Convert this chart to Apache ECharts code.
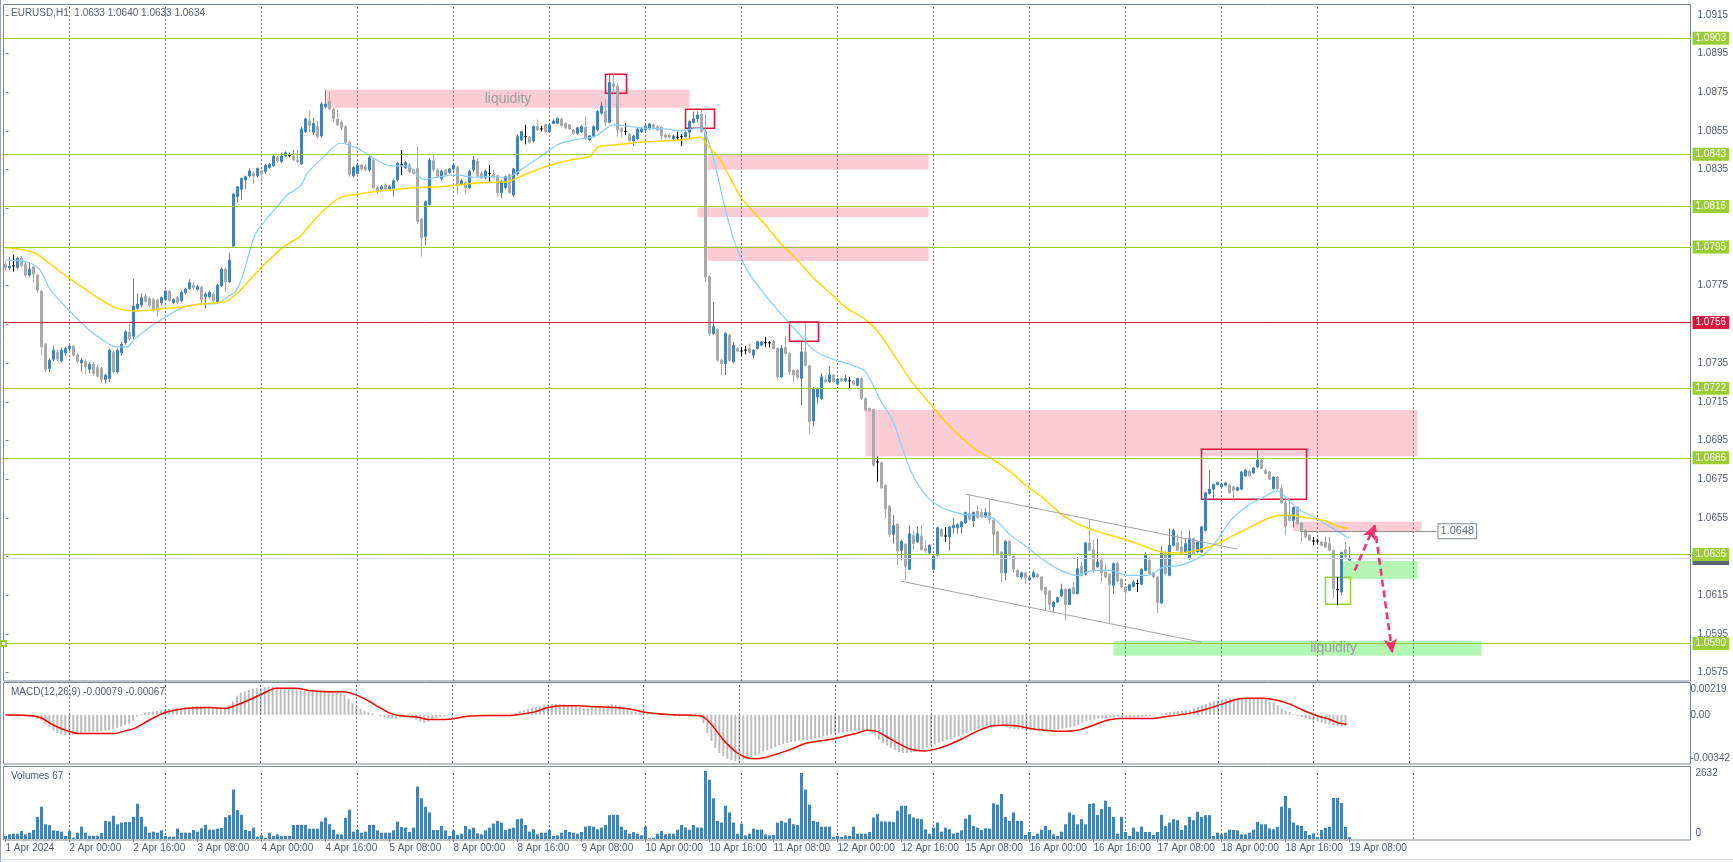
<!DOCTYPE html>
<html><head><meta charset="utf-8">
<style>html,body{margin:0;padding:0;background:#fff}#c{width:1733px;height:862px}</style>
<script src="https://cdn.jsdelivr.net/npm/echarts@6/dist/echarts.min.js"></script>
</head><body><div id="c"></div>
<script>
// ---------------- DATA ----------------
const symbolName = 'EURUSD,H1';
const tickLabels = ['1 Apr 2024','2 Apr 00:00','2 Apr 16:00','3 Apr 08:00','4 Apr 00:00','4 Apr 16:00','5 Apr 08:00','8 Apr 00:00','8 Apr 16:00','9 Apr 08:00','10 Apr 00:00','10 Apr 16:00','11 Apr 08:00','12 Apr 00:00','12 Apr 16:00','15 Apr 08:00','16 Apr 00:00','16 Apr 16:00','17 Apr 08:00','18 Apr 00:00','18 Apr 16:00','19 Apr 08:00'];
const barsPerLabel = 16;
const dayStarts = [16,40,64,88,112,136,160,184,208,232,256,280,304,328,352];
const slotCount = 422; // bars + empty future space on the time axis

// hourly candles, price x 10000 : [open, high, low, close]
const ohlc = [
[10786.2,10787.5,10783,10784.5],[10784.2,10790,10783.1,10785.2],[10785.3,10791.2,10782.3,10785.3],[10784.5,10790,10783.5,10789.1],[10789.1,10790.5,10784.5,10785.3],
[10786,10787,10779.3,10780.5],[10780.5,10787,10779.3,10783.6],[10784.8,10785.5,10776.6,10781],[10780.5,10781,10771.4,10772.8],[10772.2,10773,10739.1,10743.4],
[10744.8,10745.5,10730.5,10731.7],[10732.2,10737.5,10730.5,10736.5],[10737,10743.8,10736,10741.7],[10740.5,10742,10736,10737],[10736.2,10743,10735.5,10741.7],
[10740.3,10743.5,10739,10742.6],[10742.5,10745,10741,10743.8],[10743.8,10744.5,10738.5,10739.1],[10739.1,10740,10735,10736],[10735.1,10737.5,10730.5,10736.5],
[10735.8,10737,10729.6,10733.1],[10731.8,10735.5,10729.6,10734.4],[10734.4,10735.5,10728.5,10729.6],[10732.7,10734,10727.5,10728.2],[10732.2,10733,10725.3,10726.5],
[10726.5,10729.5,10724.4,10728.7],[10727,10742.5,10725.3,10741.7],[10740.5,10741.5,10729.5,10730.5],[10730.5,10742.5,10729.5,10741.7],[10740.3,10746,10739,10744.8],
[10745.5,10752,10744.5,10751.2],[10750.9,10755.5,10746.5,10747.7],[10748.9,10778.4,10747.2,10764.5],[10763.4,10771,10762.5,10765.5],[10765,10771,10764,10768.8],
[10769.6,10771,10766,10766.9],[10768.4,10769.5,10764,10765],[10767.9,10769,10761.5,10762.4],[10767.6,10768.5,10759,10762.4],[10766.2,10769.5,10765,10768.8],
[10767.9,10773,10767,10772.2],[10772.2,10773,10766.5,10767.2],[10766.4,10768.5,10765.5,10767.9],[10768.9,10769.5,10765.5,10766.4],[10767.2,10772.5,10766.5,10771.5],
[10771.5,10774,10770.5,10773.3],[10773.6,10778.3,10773,10776.6],[10775.3,10777,10773,10774],[10773.1,10775.5,10772.5,10774.5],[10774.1,10775,10765.8,10767.9],
[10769.3,10771.5,10763.3,10770.7],[10769.3,10772.5,10768.5,10771.5],[10770.7,10771.5,10766.5,10767.2],[10766.4,10776,10765.5,10775.3],[10775,10784.5,10774.5,10783.6],
[10783.6,10784.5,10771.9,10777.1],[10777.1,10792.2,10776.5,10788.3],[10795.5,10823,10795,10822.4],[10821.1,10826.5,10818,10826.2],[10824.9,10831,10819.3,10830.5],
[10829.7,10832,10824.9,10831.4],[10831.8,10835.7,10831,10834.3],[10833.1,10834,10827.6,10831.8],[10831.9,10836.2,10831,10835.6],[10834.3,10835,10828.6,10832.8],
[10834,10838,10833,10837.3],[10836.1,10838.5,10835.5,10837.6],[10837,10842.5,10836.5,10841.8],[10841.2,10842,10838.5,10839.5],[10839.2,10843.8,10838.5,10842.1],
[10842.1,10844.5,10841.5,10843.8],[10842.4,10843.8,10841.4,10842.4],[10842,10845.2,10839.5,10840.2],[10840,10845.2,10838.5,10839.2],[10838,10857,10837.5,10856.1],
[10854.7,10862,10854,10861.3],[10860.2,10865.4,10854.4,10857.8],[10854.4,10861.6,10853,10859],[10857.3,10860.2,10851,10852.1],[10852.5,10870,10851.5,10869],
[10867.5,10876.3,10867,10869],[10870.2,10875.4,10865.9,10866.4],[10866.3,10867,10859.5,10861.3],[10861.1,10865.9,10857.5,10858.2],[10859.5,10860.5,10855.5,10856.9],
[10857.3,10858,10848.5,10849.2],[10849.2,10850,10831.4,10832.6],[10831.9,10837,10831,10836.2],[10833.1,10838.5,10832.5,10837.5],[10837.5,10838,10834.5,10835.4],
[10836.6,10837.5,10834,10834.9],[10834.9,10843,10834,10841.2],[10840,10841,10824.9,10825.7],[10825.7,10826.5,10822.3,10824],[10825,10827,10824,10826.2],
[10827.1,10828,10824,10825],[10825,10827,10824.5,10826.2],[10825.4,10830,10821.1,10829.3],[10829.7,10839,10829,10838.3],[10837.5,10845.2,10832.3,10837.5],
[10836.1,10839.5,10835.5,10838.7],[10837.5,10838.5,10833,10834],[10834.9,10835.5,10832.5,10833.1],[10835.7,10847.3,10807,10808.1],[10809.5,10810,10790,10799.8],
[10800.4,10819,10796,10818.5],[10817.1,10841,10816.5,10840],[10839.7,10842.6,10834,10834.9],[10834.9,10835.5,10831,10831.8],[10830.5,10835,10829.5,10834.3],
[10834.9,10835.5,10831.5,10832.3],[10833.7,10836,10833,10835.4],[10835.4,10838,10834.5,10837.5],[10836.2,10837,10822.8,10827.1],[10827.6,10830,10827,10829.3],
[10828.3,10829,10822.8,10825.7],[10825.7,10835,10825,10834.3],[10834.9,10842.1,10834,10840],[10839.5,10841.2,10831,10831.8],[10833.1,10834,10830,10830.5],
[10830.9,10835,10830,10834.3],[10833.1,10837.5,10828.8,10833.1],[10832.6,10834.9,10830.5,10831.1],[10831.9,10832.5,10821.1,10823.1],[10823.1,10829.5,10820.2,10828.8],
[10825.7,10832,10825,10831.4],[10832.3,10833,10822.8,10823.1],[10821.9,10836,10821,10835.4],[10832.8,10853,10832,10852.1],[10850.4,10855,10850,10854.7],
[10852.1,10858.2,10848.1,10852.1],[10851.6,10852.5,10848.5,10849.2],[10849.9,10858,10849,10857.3],[10857.3,10861.1,10855,10855.6],[10856.1,10857.8,10854.7,10856.1],
[10858.2,10859,10854,10854.7],[10854.7,10859,10854,10858.2],[10859,10861,10858.5,10860.2],[10859,10862,10858.5,10861.6],[10861.1,10862,10857,10857.8],
[10859,10859.5,10856,10856.7],[10858.2,10858.7,10855.5,10856.1],[10855.6,10856,10853,10853.8],[10853.8,10857.2,10853,10856.7],[10854.7,10858,10854,10857.3],
[10856.9,10862.5,10850.5,10851.3],[10850.4,10853,10850,10852.5],[10852.5,10858,10851.8,10857.3],[10855.6,10865.9,10855,10865.1],[10864.2,10870.2,10863.5,10868],
[10865.1,10871.4,10857.8,10859.5],[10859.5,10884,10859,10880.1],[10879.4,10884.5,10874.5,10878],[10878.3,10879.5,10852.1,10855.6],[10856.4,10857,10852.1,10854.7],
[10854.7,10859,10853,10854.7],[10853.5,10854,10849.5,10849.9],[10849.9,10853,10847.3,10852.5],[10850.9,10856.5,10850.5,10856.1],[10854.7,10856.8,10854,10856.1],
[10855.6,10858.2,10855,10857.6],[10856.1,10859.2,10855.5,10858.7],[10858.2,10858.8,10856.3,10856.8],[10857.3,10858,10855,10855.6],[10856.9,10857.5,10850.4,10852.6],
[10853,10853.6,10851.2,10851.8],[10853,10853.6,10851.2,10851.8],[10850.9,10853.2,10850.3,10852.5],[10851.8,10854.7,10850.4,10851.8],[10852.1,10853.5,10847.3,10852.1],
[10852.1,10854.8,10851.5,10854.2],[10854.4,10860.5,10850.4,10859.9],[10859.5,10865.1,10859,10861.3],[10861.3,10865.1,10859.4,10863.3],[10863.7,10865.9,10854,10854.7],
[10854.7,10864,10777.1,10779.7],[10779.7,10780.5,10748.9,10750.3],[10750.3,10766.7,10749.5,10753.8],[10752.5,10753,10735.8,10736.5],[10736.5,10737.2,10728.8,10734.8],
[10734.8,10751,10728.8,10750.3],[10749.5,10750.2,10735.7,10736.5],[10735.7,10746,10735,10744.3],[10742.6,10743.3,10740.5,10741.2],[10741.2,10743.4,10738.8,10741.2],
[10741.7,10743.9,10739.5,10741.7],[10742.6,10745.1,10740,10740.5],[10739.1,10742.3,10737.4,10741.7],[10742.6,10746.6,10742,10746],[10744.3,10746.5,10743.8,10746],
[10745.5,10748.6,10743.4,10745.5],[10745.5,10746.5,10743.1,10745.5],[10746.4,10747,10742,10742.6],[10742.6,10743.2,10726.5,10727.9],[10727.9,10744.3,10727.3,10742.6],
[10743.1,10749.1,10739.5,10740],[10740,10740.5,10728.8,10730.5],[10731.3,10731.8,10725.3,10728.8],[10731.3,10731.8,10727,10727.6],[10727,10746,10713.2,10740.8],
[10740.8,10756.4,10733.3,10733.9],[10733.6,10734.2,10698.6,10704.6],[10705.1,10722.5,10702,10721.9],[10717.5,10722.5,10714.1,10721.9],[10716.7,10729.9,10716,10727.9],
[10726.5,10728.8,10724.8,10725.3],[10725.3,10733.4,10724.8,10728.8],[10728.8,10729.3,10724.8,10725.3],[10724.1,10727.3,10723.5,10726.7],[10727,10727.6,10725.1,10725.7],
[10725.8,10728.8,10725.2,10727],[10725.8,10727.9,10721.9,10725.8],[10725.8,10726.3,10723.5,10724.1],[10723.6,10727.5,10723,10727],[10727,10727.6,10716,10716.7],
[10716.7,10717.2,10710,10710.6],[10711.5,10712,10709.8,10710.3],[10711,10711.5,10681.5,10682.2],[10683.9,10686.8,10673.6,10683.9],[10683.6,10684,10670,10670.5],
[10671.8,10672.3,10654.6,10659.8],[10661,10661.5,10645.1,10646.5],[10646.5,10656.3,10641.6,10651.1],[10651.6,10652.2,10630.4,10637.8],[10638.2,10643.4,10633,10642.9],
[10641.3,10641.8,10622.7,10629.9],[10628.4,10651.1,10628,10646.8],[10645.9,10648.5,10638.2,10641.6],[10642.5,10650.3,10642,10646.8],[10645.6,10651.1,10638,10638.5],
[10639,10643.4,10636.8,10637.8],[10636.8,10641.3,10636.3,10640.8],[10628.4,10635.6,10627.8,10635.1],[10635.6,10650.4,10635,10649.9],[10649.1,10649.6,10645,10645.6],
[10645.6,10650.3,10642.5,10645.6],[10645.1,10650.8,10638.2,10650.3],[10649.8,10654.6,10646.8,10651.1],[10649.8,10652,10646.8,10651.5],[10650.3,10653.4,10646.8,10652.9],
[10652.3,10658.2,10651.8,10657.7],[10657.2,10667,10653.7,10654.2],[10653.4,10658.2,10650.3,10657.7],[10658.5,10661.5,10654.6,10655.1],[10657.7,10659.8,10654.9,10655.4],
[10655.4,10659.8,10654.9,10657.7],[10657.7,10664.9,10652,10654.2],[10653.7,10654.2,10635.1,10646.5],[10647.7,10648.2,10636,10636.5],[10637.3,10637.8,10621.8,10626.5],
[10626.5,10643.4,10622.7,10642.9],[10642.9,10643.4,10635,10635.6],[10635.1,10635.6,10626.5,10628.4],[10627.8,10628.3,10623.9,10624.4],[10624.4,10627.1,10623.5,10626.6],
[10626.5,10627,10620.9,10624],[10623,10624.5,10622.5,10624],[10624.4,10627.8,10624,10626.6],[10625.8,10626.3,10623.9,10624.4],[10624.4,10624.9,10617.3,10617.8],
[10618.9,10619.4,10607.1,10615.2],[10617.1,10617.6,10607.1,10610.2],[10608.9,10611.9,10606.3,10611.4],[10611.4,10614.2,10610.9,10613.7],[10614.5,10620.9,10614,10618],
[10618,10618.5,10602,10610.2],[10610.2,10618.5,10609.7,10618],[10618.9,10621.8,10615.3,10615.8],[10615.8,10634.7,10615.3,10628.7],[10629.9,10632.2,10624.7,10625.2],
[10625.8,10642.5,10625.3,10642],[10642,10654.1,10637.7,10638.2],[10638.5,10643.7,10626.5,10627.5],[10629.6,10644.2,10629.1,10632.2],[10633,10633.5,10621.8,10626.5],
[10627,10631.3,10623.9,10624.4],[10625.8,10626.3,10600.6,10620.6],[10620.1,10631.8,10615.8,10631.3],[10631.6,10632.1,10621.8,10622.3],[10623.2,10623.7,10618.7,10619.2],
[10619.2,10619.7,10612.3,10616.6],[10617.5,10620.9,10617,10620.4],[10619.5,10622.7,10619,10621.8],[10621,10623,10616.6,10621],[10620.6,10628.9,10620.1,10628.4],
[10627.8,10637.3,10627.3,10635.6],[10633,10635,10625.6,10626.1],[10626.5,10627,10623.9,10624.4],[10624.4,10624.9,10605.7,10610.9],[10610.9,10640.4,10610.4,10637.3],
[10637.3,10638,10625.5,10626.1],[10625.2,10649.4,10624.7,10640.8],[10640.8,10649.4,10640.3,10648.5],[10642,10646.3,10637.7,10638.2],[10639.9,10648.5,10636,10636.5],
[10637.3,10644.2,10636.8,10641.6],[10633.9,10648.5,10633.4,10644.2],[10644.2,10644.7,10636,10636.5],[10637.3,10643,10636.8,10642.5],[10637.3,10650.8,10636.8,10650.3],
[10648.5,10668.4,10648,10667.9],[10667.5,10679.6,10667,10669.8],[10669.8,10672.7,10664.1,10672.2],[10672.2,10673.7,10671.7,10673.2],[10671,10672.7,10670.5,10672.2],
[10671.8,10673.5,10671.3,10673],[10671.8,10672.3,10667.5,10668],[10671,10671.5,10664.1,10669.2],[10669.2,10671.1,10668.7,10670.6],[10669.8,10679.2,10669.3,10678.7],
[10676.7,10680.1,10676.2,10679.6],[10679.1,10679.6,10676.2,10676.7],[10678.2,10681.3,10677.7,10680.8],[10681.3,10689.9,10680.8,10684.8],[10684.8,10685.3,10680,10680.5],
[10679.6,10680.1,10677.4,10677.9],[10678.7,10679.2,10674.4,10674.9],[10670.1,10676.6,10669.6,10676.1],[10676.1,10676.6,10669.6,10670.1],[10670.1,10672,10662.2,10662.7],
[10662.7,10664.6,10646,10650.6],[10656.3,10664.6,10653.2,10653.7],[10653.7,10660.8,10649.9,10660.3],[10660.6,10661.1,10651.5,10652],[10652.3,10652.8,10642.5,10647.7],
[10648.5,10649,10644.6,10645.1],[10646,10646.5,10642.9,10643.4],[10643,10645.1,10640.8,10643],[10643,10644.2,10641.6,10643],[10642.5,10643,10640.3,10640.8],
[10642.5,10645.1,10639.4,10639.9],[10641.6,10645.1,10637.7,10638.2],[10638.2,10638.7,10613.2,10618.3],[10617.8,10624.4,10609.7,10617.8],[10616.6,10637.5,10614.9,10637],
[10638.5,10642.5,10634.2,10634.7],[10633,10640,10633,10634]
];

// tick volume per bar
const volumes = [
115,180,206,206,310,180,245,350,858,1249,571,532,336,310,284,115,310,50,245,480,
245,128,128,128,232,702,676,897,571,636,662,662,858,1367,858,480,245,284,245,336,
115,89,89,402,245,245,245,350,284,415,545,363,363,402,428,845,923,1914,1119,936,
350,310,441,89,141,40,245,115,180,115,115,115,545,545,545,545,402,402,402,676,
832,571,363,180,180,819,1132,284,350,245,284,545,545,336,245,245,245,336,676,467,
441,271,441,2031,1575,1249,1028,350,350,506,336,115,336,154,206,506,376,441,219,180,
336,441,597,702,636,350,402,441,767,793,545,284,376,180,245,245,350,115,141,245,
350,271,245,206,271,480,506,480,376,441,545,923,936,936,480,350,206,271,206,141,
480,30,50,206,310,180,206,206,363,545,441,363,545,441,441,2632,2292,1575,702,636,
1288,1028,636,206,597,141,206,402,363,363,180,141,154,636,702,636,793,571,545,2553,
1914,1327,702,662,480,480,480,76,115,76,141,115,480,206,206,206,271,832,962,676,
676,676,662,1093,1288,1288,962,832,793,767,376,206,441,636,284,441,376,206,245,336,
793,936,506,441,350,415,402,1380,1327,1744,858,702,1028,702,702,154,271,115,206,363,
506,350,180,115,284,571,1028,936,571,767,571,1354,1380,936,1158,1485,1249,858,206,858,
271,115,441,284,480,271,271,154,271,936,500,636,767,728,350,532,858,728,1054,858,
923,923,115,245,180,245,363,350,336,180,180,245,363,662,571,571,415,376,467,1249,
1666,1197,636,532,506,310,154,219,76,350,441,467,1588,1588,1393,467,67
];

// MACD(12,26,9) main histogram, units of 0.00001
const macdMain = [
0,-2,-4,-6,-8,-12,-15,-18,-25,-40,
-65,-86,-112,-128,-139,-143,-145,-142,-136,-130,
-125,-122,-121,-120,-116,-112,-108,-100,-92,-84,
-72,-62,-40,-12,5,12,18,23,28,33,
38,41,44,47,50,53,58,60,61,62,
60,57,54,52,52,52,70,95,135,155,
168,177,184,189,193,196,199,200,196,193,
190,187,182,178,172,170,169,169,169,169,
167,164,161,158,154,142,115,82,62,42,
28,18,10,2,-10,-16,-21,-26,-24,-20,
-18,-14,-20,-38,-50,-57,-48,-33,-20,-14,
-10,-6,-2,-5,-4,-2,0,-1,-2,-1,
0,0,0,-2,-8,-10,-3,3,12,25,
32,40,48,55,62,68,74,76,76,76,
74,70,66,62,55,46,50,57,58,60,
62,68,76,70,62,52,40,28,22,18,
14,10,5,-2,-2,-2,-4,-8,-10,-10,
-6,2,8,10,8,-60,-130,-185,-235,-270,
-295,-312,-322,-328,-326,-318,-308,-298,-288,-274,
-260,-250,-240,-228,-217,-207,-200,-193,-188,-183,
-180,-178,-175,-168,-160,-152,-146,-140,-134,-130,
-125,-121,-118,-114,-111,-109,-112,-121,-145,-176,
-200,-217,-235,-250,-265,-271,-271,-268,-264,-252,
-244,-232,-220,-210,-198,-190,-180,-170,-160,-150,
-140,-128,-118,-107,-98,-90,-81,-78,-75,-76,
-80,-87,-96,-101,-104,-105,-107,-109,-111,-114,
-112,-110,-108,-105,-102,-98,-95,-90,-83,-72,
-55,-45,-40,-34,-28,-26,-23,-20,-19,-19,
-19,-19,-19,-19,-19,-15,-11,-8,-6,0,
8,14,19,22,27,30,33,37,45,56,
66,78,88,96,100,106,112,117,120,121,
121,121,119,117,115,112,106,95,86,70,
45,30,20,5,-8,-16,-28,-33,-40,-48,
-55,-62,-67,-73,-80,-82,-79
];
// MACD signal line read at points [bar, value x 0.00001]
const macdSignal = [[0,-2],[5.4,-5],[8.8,-21],[12.1,-74],[15.5,-114],[18.3,-133],[21.1,-133],[27.2,-133],[30,-114],[32.2,-98],[34.5,-62],[37.3,-19],[40,17],[43.4,38],[46.7,48],[51.2,52],[55.1,45],[57.9,69],[61.3,109],[64.6,152],[67.9,188],[72.4,188],[76.9,171],[81.3,164],[84.7,164],[88,140],[91.4,93],[94.2,45],[97,5],[100.3,-10],[103.7,-19],[105.9,-33],[110.4,-33],[112.6,-26],[115.9,-10],[121.5,-5],[126,-5],[129.3,5],[132.7,21],[136,52],[139.4,64],[143.8,64],[148.3,57],[152.8,52],[157.2,38],[160.6,17],[166.2,2],[170.6,-2],[174.6,-10],[176.8,-62],[179.1,-145],[181.3,-217],[183.5,-271],[185.8,-305],[188,-312],[190.2,-305],[193.6,-276],[196.9,-245],[200.3,-205],[203.6,-188],[207,-174],[210.3,-152],[213.7,-129],[215.9,-109],[218.1,-114],[220.3,-145],[223.7,-200],[227,-245],[230.4,-257],[233.7,-240],[237.1,-205],[240.4,-162],[243.8,-114],[247.2,-79],[250.5,-74],[253.8,-79],[257.2,-98],[260.5,-109],[263.9,-117],[267.2,-114],[269.5,-105],[272.8,-74],[276.2,-38],[279.5,-26],[287.3,-26],[290.7,-14],[294,-2],[297.4,14],[300.8,38],[304.1,67],[307.5,100],[310.8,117],[315.2,117],[318.6,105],[322,76],[325.3,33],[328.7,-5],[332,-33],[334.2,-57],[336.2,-67]];

// moving averages read at points [bar, price x 10000]
const maFast = [[0,10788.3],[4,10788],[8.3,10784],[11.25,10772.8],[15.4,10763.3],[19.6,10754.6],[23.75,10747.7],[27.9,10743.4],[30.4,10743.4],[32,10746.9],[36.25,10753.8],[40.4,10759.3],[44.6,10764.1],[48.75,10765.5],[52.9,10765.9],[56.25,10770.2],[57.5,10772],[59.1,10778.9],[60.75,10790.9],[62.4,10801.4],[64.1,10806.6],[65.4,10810],[67.9,10815.9],[70.4,10822],[73.75,10826.6],[75.4,10833.1],[79.6,10841.8],[83.75,10848.7],[87.9,10846.1],[92.1,10840.9],[96.25,10837],[100.4,10837],[104.6,10830],[108.75,10831.4],[112.9,10832.3],[117.1,10831.1],[121.25,10831.4],[125.4,10831.1],[128.75,10834.9],[133.75,10841.8],[137.9,10847.8],[142.1,10850.4],[146.25,10851.6],[148,10853],[152.1,10858.2],[156.25,10857.3],[160.4,10856.4],[164.6,10856.1],[168.75,10855.2],[172.9,10856.4],[174.6,10855.6],[177.1,10840],[179.6,10817.6],[182.1,10798.6],[185.4,10783.1],[189.6,10771],[193.75,10760.7],[197.9,10751.2],[202.1,10741.7],[206.25,10737.4],[210.4,10734.8],[214.6,10731.3],[216.25,10726.2],[218.75,10715.8],[222.1,10703.8],[226.25,10679.6],[230.4,10665.8],[234.6,10659.8],[238.75,10657.2],[242.9,10656.3],[247.1,10654.6],[251.25,10645.9],[255.4,10639.9],[259.6,10633],[263.75,10627.8],[267.9,10625.2],[272.1,10627.8],[276.25,10627.8],[280.4,10625.2],[285.4,10625.2],[289.6,10629.6],[293.75,10630.4],[297.9,10633.9],[300.4,10637.3],[302.9,10643.4],[306.25,10653.7],[310.4,10661],[314.6,10665.8],[317.9,10668.9],[320.4,10664.9],[322.9,10659.8],[327.1,10655.4],[331.25,10650.3],[336,10644.2]];
const maSlow = [[0,10794.8],[7,10792.2],[11.25,10786.2],[15.4,10779.7],[19.6,10773.6],[23.75,10767.9],[27.9,10763.3],[32,10761.9],[36.25,10762.4],[40.4,10763.3],[44.6,10764.1],[48.75,10765.5],[52.9,10766.2],[55.4,10767.2],[58.75,10772.8],[63.75,10784],[69.6,10795.2],[73.75,10800.7],[75.4,10804.7],[79.6,10814.2],[83.75,10820.7],[87.9,10822.3],[92.1,10823.6],[96.25,10824.5],[100.4,10825.4],[104.6,10825.9],[108.75,10826.2],[112.9,10827.1],[117.1,10828],[121.25,10828.5],[125.4,10828.8],[129.6,10832.3],[133.75,10835.7],[137.9,10838.3],[142.1,10840.4],[146.25,10842.1],[148,10846.6],[152.1,10847.8],[160.4,10849.5],[168.75,10850.4],[173.75,10851.8],[175.4,10847.8],[178.75,10840],[183.75,10821.1],[189.6,10807.3],[193.75,10797],[197.9,10788.3],[202.1,10778.8],[206.25,10771],[210.4,10763.3],[214.6,10758.1],[218.75,10749.5],[226.25,10726.2],[230.4,10715.8],[234.6,10705.5],[238.75,10696.9],[242.9,10689.9],[247.1,10684.8],[251.25,10678.7],[255.4,10671.3],[259.6,10664.9],[263.75,10657.2],[267.9,10652],[272.1,10648.5],[276.25,10645.9],[280.4,10643.4],[284.6,10640.4],[289.6,10637],[293.75,10636.8],[297.9,10638.2],[302.1,10640.8],[306.25,10645.1],[310.4,10649.4],[314.6,10653.7],[317.9,10656],[321.25,10656.3],[324.6,10655.1],[329.6,10653.7],[332.9,10650.6],[335.8,10649.4]];

// axis tick values
const priceTicks = [1.0575,1.0595,1.0615,1.0635,1.0655,1.0675,1.0695,1.0715,1.0735,1.0755,1.0775,1.0795,1.0815,1.0835,1.0855,1.0875,1.0895,1.0915];
const macdRange = [-0.00342, 0.00219];
const volumeMax = 2632;

// drawn objects (bar index, price)
const greenLevels = [1.0903,1.0843,1.0816,1.0795,1.0722,1.0686,1.0636,1.0590];
const redLevels = [1.0756];
const pinkZones = [[80.25,1.08763,171,1.08671,'liquidity'],[175.5,1.0843,230.75,1.0835,''],[173,1.08154,230.75,1.08106,''],[175.5,1.07954,230.75,1.07878,''],[215,1.07107,353,1.06868,''],[322,1.06529,354,1.06482,'']];
const greenZones = [[334.25,1.06327,353,1.06233,''],[277,1.05913,369,1.05837,'liquidity']];
const redBoxes = [[150,1.08844,155.25,1.08745],[170,1.08663,177.25,1.08564],[196,1.07563,203.25,1.07463],[299,1.06905,325.25,1.06646]];
const greenBoxes = [[330,1.06243,336.25,1.06103]];
const channelLines = [[240,1.06672,308,1.06388],[223.9,1.06222,298.9,1.05907]];
const arrows = [[337.3,1.06277,342.25,1.06512],[342.25,1.06512,346.7,1.0585]];
const tagLine = [323.75,357.75,1.0648];

// ---------------- CHART ----------------
const FONT = '"Liberation Sans", Arial, sans-serif';
const TXT = '#536070';
const FRAME = '#7a8692';
const GL = 3.5, GW = 1688;
const cats = Array.from({length: slotCount}, (_, i) => 'b' + i);
const lastBar = ohlc.length - 1;
const isLabelIdx = i => i % barsPerLabel === 0 && i / barsPerLabel < tickLabels.length;
const candleData = ohlc.map(r => [r[0] / 1e4, r[3] / 1e4, r[2] / 1e4, r[1] / 1e4]);
const dailyLines = dayStarts.map(i => ({xAxis: i}));
const dailyStyle = {color: '#66727f', type: [2, 2], width: 1};
const last = ohlc[lastBar];

const areaItems = [];
pinkZones.forEach(z => areaItems.push([{coord: [z[0], z[1]], itemStyle: {color: '#f9ccd6'},
  label: {show: !!z[4], formatter: z[4], position: 'inside', color: '#9b9b9b', fontSize: 14, fontFamily: FONT}}, {coord: [z[2], z[3]]}]));
greenZones.forEach(z => areaItems.push([{coord: [z[0], z[1]], itemStyle: {color: '#b4f6b4'},
  label: {show: !!z[4], formatter: z[4], position: 'inside', offset: [36, 0], color: '#9b9b9b', fontSize: 14, fontFamily: FONT}}, {coord: [z[2], z[3]]}]));
redBoxes.forEach(z => areaItems.push([{coord: [z[0], z[1]], itemStyle: {color: 'rgba(0,0,0,0)', borderColor: '#dc143c', borderWidth: 1.5}, label: {show: false}}, {coord: [z[2], z[3]]}]));
greenBoxes.forEach(z => areaItems.push([{coord: [z[0], z[1]], itemStyle: {color: 'rgba(0,0,0,0)', borderColor: '#9acd32', borderWidth: 1.5}, label: {show: false}}, {coord: [z[2], z[3]]}]));

const boxLabel = (text, bg) => ({show: true, position: 'end', distance: 1, formatter: text, backgroundColor: bg, color: '#fff',
  padding: [2, 3, 1, 3], fontSize: 10, fontFamily: FONT});
const lineItems = [];
lineItems.push({yAxis: last[3] / 1e4, lineStyle: {color: '#d4d4ee', type: 'solid', width: 1}, label: boxLabel((last[3] / 1e4).toFixed(4), '#5c6775')});
greenLevels.forEach(p => lineItems.push({yAxis: p, symbol: p === 1.059 ? 'emptyRect' : 'none', symbolSize: 5,
  lineStyle: {color: '#9acd32', type: 'solid', width: 1}, label: boxLabel(p.toFixed(4), '#9acd32')}));
redLevels.forEach(p => lineItems.push({yAxis: p, lineStyle: {color: '#dc143c', type: 'solid', width: 1}, label: boxLabel(p.toFixed(4), '#dc143c')}));
channelLines.forEach(l => lineItems.push([{coord: [l[0], l[1]], symbol: 'none', lineStyle: {color: '#a3a3a3', type: 'solid', width: 1}, label: {show: false}}, {coord: [l[2], l[3]], symbol: 'none'}]));
lineItems.push([{coord: [tagLine[0], tagLine[2]], symbol: 'none', lineStyle: {color: '#8f8f8f', type: 'solid', width: 1},
  label: {show: true, position: 'end', distance: 2, formatter: tagLine[2].toFixed(4), backgroundColor: '#fff', borderColor: '#7a8692', borderWidth: 1, color: '#5c6775', padding: [2, 2, 1, 2], fontSize: 11, fontFamily: FONT}},
  {coord: [tagLine[1], tagLine[2]], symbol: 'none'}]);
arrows.forEach(a => lineItems.push([{coord: [a[0], a[1]], symbol: 'none', lineStyle: {color: '#f5306e', type: [7, 4], width: 2.5}, label: {show: false}},
  {coord: [a[2], a[3]], symbol: 'arrow', symbolSize: [10, 14]}]));

const option = {
  animation: false,
  backgroundColor: '#fff',
  textStyle: {fontFamily: FONT},
  grid: [
    {left: GL, top: 4, width: GW, height: 677},
    {left: GL, top: 684, width: GW, height: 79},
    {left: GL, top: 771, width: GW, height: 68}
  ],
  xAxis: [
    {type: 'category', gridIndex: 0, data: cats, boundaryGap: true, axisLine: {show: false}, axisTick: {show: false}, axisLabel: {show: false}, splitLine: {show: false}},
    {type: 'value', gridIndex: 0, min: -0.5, max: slotCount - 0.5, show: false},
    {type: 'category', gridIndex: 1, data: cats, boundaryGap: true, axisLine: {show: false}, axisTick: {show: false}, axisLabel: {show: false}},
    {type: 'category', gridIndex: 2, data: cats, boundaryGap: true, axisLine: {show: false},
      axisTick: {show: true, alignWithLabel: true, length: 3, interval: (i) => isLabelIdx(i), lineStyle: {color: FRAME}},
      axisLabel: {show: true, interval: (i) => isLabelIdx(i), formatter: (v, i) => isLabelIdx(i) ? tickLabels[i / barsPerLabel] : '',
        align: 'left', margin: 4, color: TXT, fontSize: 10, fontFamily: FONT}},
    {type: 'value', gridIndex: 1, min: -0.5, max: slotCount - 0.5, show: false}
  ],
  yAxis: [
    {type: 'value', gridIndex: 0, position: 'right', min: 1.05706, max: 1.09207, splitLine: {show: false},
      axisLine: {show: false},
      axisTick: {show: true, customValues: priceTicks, length: 3, lineStyle: {color: FRAME}},
      axisLabel: {customValues: priceTicks, formatter: v => v.toFixed(4), color: TXT, fontSize: 10, margin: 6, fontFamily: FONT}},
    {type: 'value', gridIndex: 1, position: 'right', min: macdRange[0], max: macdRange[1], splitLine: {show: false}, axisLine: {show: false}, axisTick: {show: false},
      axisLabel: {customValues: [macdRange[0], 0, macdRange[1]], margin: 4, color: TXT, fontSize: 10, fontFamily: FONT,
        formatter: v => v > 0.0001 ? '{t|' + v.toFixed(5) + '}' : (v < -0.0001 ? '{b|' + v.toFixed(5) + '}' : '0.00'),
        rich: {t: {padding: [11, 0, 0, 0], color: TXT, fontSize: 10, fontFamily: FONT}, b: {padding: [0, 0, 10, 0], color: TXT, fontSize: 10, fontFamily: FONT}}}},
    {type: 'value', gridIndex: 2, position: 'right', min: 0, max: volumeMax, splitLine: {show: false}, axisLine: {show: false}, axisTick: {show: false},
      axisLabel: {customValues: [0, volumeMax], margin: 4, color: TXT, fontSize: 10, fontFamily: FONT,
        formatter: v => v > 0 ? '{t|' + v + '}' : '{b|0}',
        rich: {t: {padding: [5, 0, 0, 0], color: TXT, fontSize: 10, fontFamily: FONT}, b: {padding: [0, 0, 12, 0], color: TXT, fontSize: 10, fontFamily: FONT}}}}
  ],
  series: [
    {type: 'candlestick', name: 'price', xAxisIndex: 0, yAxisIndex: 0, data: candleData, barWidth: 2, z: 3,
      itemStyle: {color: '#4682b4', color0: '#a9a9a9', borderColor: '#4682b4', borderColor0: '#a9a9a9', borderColorDoji: '#000000', borderWidth: 1},
      markLine: {silent: true, z: 1, symbol: ['none', 'none'], label: {show: false}, lineStyle: dailyStyle, data: dailyLines}},
    {type: 'line', name: 'maFast', xAxisIndex: 1, yAxisIndex: 0, data: maFast.map(p => [p[0], p[1] / 1e4]), smooth: 0.3, showSymbol: false, symbol: 'none', z: 4,
      lineStyle: {color: '#87cefa', width: 1.2},
      markArea: {silent: true, z: 1, data: areaItems}},
    {type: 'line', name: 'maSlow', xAxisIndex: 1, yAxisIndex: 0, data: maSlow.map(p => [p[0], p[1] / 1e4]), smooth: 0.3, showSymbol: false, symbol: 'none', z: 4,
      lineStyle: {color: '#ffd700', width: 1.5},
      markLine: {silent: true, z: 6, symbol: ['none', 'none'], precision: 5, data: lineItems}},
    {type: 'bar', name: 'macd', xAxisIndex: 2, yAxisIndex: 1, data: macdMain.map(v => v / 1e5), barWidth: 2, itemStyle: {color: '#bcbcbc'},
      markLine: {silent: true, symbol: ['none', 'none'], label: {show: false}, lineStyle: dailyStyle, data: dailyLines}},
    {type: 'line', name: 'signal', xAxisIndex: 4, yAxisIndex: 1, data: macdSignal.map(p => [p[0], p[1] / 1e5]), smooth: 0.3, showSymbol: false, symbol: 'none', z: 4,
      lineStyle: {color: '#ff0000', width: 1.5}},
    {type: 'bar', name: 'volume', xAxisIndex: 3, yAxisIndex: 2, data: volumes, barWidth: 3, itemStyle: {color: '#4682b4'},
      markLine: {silent: true, symbol: ['none', 'none'], label: {show: false}, lineStyle: dailyStyle, data: dailyLines}}
  ],
  graphic: [
    {type: 'rect', shape: {x: 3.5, y: 4.5, width: 1687, height: 676.5}, style: {fill: 'none', stroke: FRAME, lineWidth: 1}, silent: true, z: 0},
    {type: 'rect', shape: {x: 3.5, y: 682.5, width: 1687, height: 81.5}, style: {fill: 'none', stroke: FRAME, lineWidth: 1}, silent: true, z: 0},
    {type: 'rect', shape: {x: 3.5, y: 766.5, width: 1687, height: 73.5}, style: {fill: 'none', stroke: FRAME, lineWidth: 1}, silent: true, z: 0},
    {type: 'line', shape: {x1: 0.5, y1: 0, x2: 0.5, y2: 862}, style: {stroke: '#9aa3ad', lineWidth: 1}, silent: true},
    {type: 'line', shape: {x1: 0, y1: 859.5, x2: 1733, y2: 859.5}, style: {stroke: '#d9dde2', lineWidth: 1}, silent: true},
    {type: 'text', left: 11, top: 8, silent: true, z: 10,
      style: {text: symbolName + '  ' + last.map(v => (v / 1e4).toFixed(4)).join(' '), fill: TXT, font: '10px ' + FONT}},
    {type: 'text', left: 11, top: 687, silent: true, z: 10,
      style: {text: 'MACD(12,26,9) ' + (macdMain[lastBar] / 1e5).toFixed(5) + ' ' + (macdSignal[macdSignal.length - 1][1] / 1e5).toFixed(5), fill: TXT, font: '10px ' + FONT}},
    {type: 'text', left: 11, top: 771, silent: true, z: 10,
      style: {text: 'Volumes ' + volumes[lastBar], fill: TXT, font: '10px ' + FONT}}
  ]
};
const chart = echarts.init(document.getElementById('c'), null, {renderer: 'canvas'});
chart.setOption(option);
</script>
</body></html>
